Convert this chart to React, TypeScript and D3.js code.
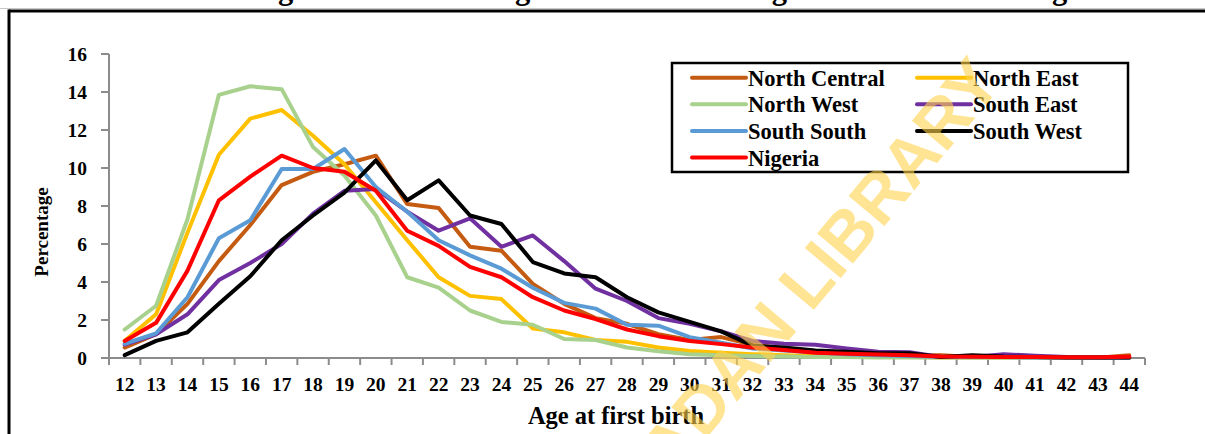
import React from "react";
import * as d3 from "d3";

const ages = d3.range(12, 45);
const ageLabels = ages.map(String);
const yTicks = [0, 2, 4, 6, 8, 10, 12, 14, 16];

const northCentral = [0.55,1.25,2.85,5.1,7.0,9.1,9.8,10.2,10.65,8.1,7.9,5.85,5.65,3.9,2.85,2.1,1.8,1.25,0.95,1.1,0.7,0.5,0.3,0.25,0.2,0.15,0.15,0.05,0.05,0.05,0.02,0.02,0.15];
const northEast = [0.9,2.3,6.6,10.7,12.6,13.05,11.7,10.2,8.2,6.2,4.25,3.27,3.1,1.55,1.35,0.95,0.85,0.55,0.37,0.28,0.2,0.15,0.1,0.08,0.05,0.05,0.03,0.02,0.02,0.02,0.01,0.01,0.01];
const northWest = [1.5,2.75,7.3,13.85,14.3,14.15,11.1,9.6,7.5,4.25,3.7,2.5,1.9,1.75,1.0,0.95,0.55,0.35,0.2,0.15,0.1,0.08,0.05,0.05,0.03,0.03,0.02,0.01,0.01,0.01,0.01,0.01,0.01];
const southEast = [0.7,1.25,2.3,4.1,5.0,6.0,7.6,8.8,8.9,7.7,6.7,7.35,5.85,6.45,5.1,3.65,3.0,2.1,1.8,1.4,0.9,0.75,0.7,0.5,0.33,0.3,0.05,0.05,0.2,0.12,0.05,0.03,0.03];
const southSouth = [0.75,1.3,3.2,6.3,7.25,9.95,9.95,11.0,9.0,7.7,6.2,5.4,4.7,3.7,2.9,2.6,1.75,1.7,1.1,0.8,0.5,0.4,0.3,0.2,0.15,0.1,0.05,0.05,0.05,0.03,0.02,0.02,0.02];
const southWest = [0.15,0.9,1.35,2.85,4.3,6.2,7.5,8.7,10.4,8.3,9.35,7.5,7.05,5.05,4.45,4.25,3.2,2.4,1.9,1.4,0.65,0.55,0.4,0.33,0.25,0.25,0.05,0.15,0.08,0.05,0.02,0.02,0.02];
const nigeria = [0.9,1.85,4.6,8.3,9.55,10.65,10.0,9.8,8.8,6.7,5.9,4.8,4.25,3.2,2.5,2.05,1.5,1.15,0.9,0.73,0.55,0.42,0.28,0.22,0.18,0.15,0.08,0.06,0.05,0.05,0.04,0.04,0.06];

const seriesNames = ["North Central", "North East", "North West", "South East", "South South", "South West", "Nigeria"];
const seriesValues = [northCentral, northEast, northWest, southEast, southSouth, southWest, nigeria];
const seriesColors = ["#C55A11", "#FFC000", "#A9D18E", "#7030A0", "#5B9BD5", "#000000", "#FF0000"];

const W = 1205;
const H = 434;
const SERIF = "'Liberation Serif', 'Times New Roman', serif";

export default function App() {
  const x = d3.scaleBand<string>().domain(ageLabels).range([109, 1145]).padding(0);
  const y = d3.scaleLinear().domain([0, 16]).range([358, 54]);
  const cx = (i: number) => (x(ageLabels[i]) as number) + x.bandwidth() / 2;
  const line = d3
    .line<number>()
    .x((_, i) => cx(i))
    .y((d) => y(d));

  const axisColor = "#8c8c8c";
  const bandEdges = ageLabels.map((a) => x(a) as number).concat([x.range()[1]]);

  const legX = 672, legY = 63, legW = 456, legH = 109;
  const rowY = (r: number) => 77.7 + r * 26.6;
  const colX = [692, 917];

  return (
    <svg width={W} height={H} style={{ position: "absolute", left: 0, top: 0, background: "#fff" }}>
      <rect x={0} y={0} width={W} height={H} fill="#fff" />
      {/* title, cut off by the top edge as in the source */}
      <text x={251} y={-1} fontFamily={SERIF} fontWeight="bold" fontSize={30.5} fill="#000">
        Figure 4.3: Percentage Distribution of Age at First Birth in Nigeria
      </text>
      {/* frame */}
      <line x1={0} x2={W} y1={8.5} y2={8.5} stroke="#c8c8c8" strokeWidth={1} />
      <line x1={9} x2={W} y1={11} y2={11} stroke="#000" strokeWidth={3} />
      <line x1={9} x2={9} y1={9.5} y2={H} stroke="#000" strokeWidth={3} />

      {/* y axis */}
      <line x1={109} x2={109} y1={y(16)} y2={y(0)} stroke={axisColor} strokeWidth={2} />
      {yTicks.map((t) => (
        <g key={t}>
          <line x1={101} x2={109} y1={y(t)} y2={y(t)} stroke={axisColor} strokeWidth={2} />
          <text x={87} y={y(t)} dy="0.35em" textAnchor="end" fontFamily={SERIF} fontWeight="bold" fontSize={19.5} fill="#000">
            {t}
          </text>
        </g>
      ))}
      {/* x axis */}
      <line x1={101} x2={x.range()[1]} y1={y(0)} y2={y(0)} stroke={axisColor} strokeWidth={2} />
      {bandEdges.map((e, i) => (
        <line key={i} x1={e} x2={e} y1={y(0)} y2={y(0) + 7} stroke={axisColor} strokeWidth={2} />
      ))}
      {ageLabels.map((a, i) => (
        <text key={a} x={cx(i)} y={391} textAnchor="middle" fontFamily={SERIF} fontWeight="bold" fontSize={19.5} fill="#000">
          {a}
        </text>
      ))}

      {/* axis titles */}
      <text x={616} y={424} textAnchor="middle" fontFamily={SERIF} fontWeight="bold" fontSize={24.5} fill="#000">
        Age at first birth
      </text>
      <text
        transform={`translate(48, 232) rotate(-90)`}
        textAnchor="middle"
        fontFamily={SERIF}
        fontWeight="bold"
        fontSize={19}
        fill="#000"
      >
        Percentage
      </text>

      {/* series */}
      {seriesValues.map((vals, k) => (
        <path
          key={seriesNames[k]}
          d={line(vals) || ""}
          fill="none"
          stroke={seriesColors[k]}
          strokeWidth={4}
          strokeLinejoin="round"
          strokeLinecap="round"
        />
      ))}

      {/* legend */}
      <rect x={legX} y={legY} width={legW} height={legH} fill="#fff" stroke="#000" strokeWidth={2.5} />
      {seriesNames.map((n, k) => {
        const r = Math.floor(k / 2);
        const c = k % 2;
        const lx = colX[c];
        const ly = rowY(r);
        return (
          <g key={n}>
            <line x1={lx} x2={lx + 54} y1={ly} y2={ly} stroke={seriesColors[k]} strokeWidth={4} strokeLinecap="round" />
            <text x={lx + 56} y={ly + 8} fontFamily={SERIF} fontWeight="bold" fontSize={22.5} fill="#000">
              {n}
            </text>
          </g>
        );
      })}

      {/* watermark */}
      <text
        transform="translate(985, 68) rotate(-50)"
        textAnchor="end"
        dy="0.36em"
        fontFamily="'Liberation Sans', Arial, sans-serif"
        fontWeight="bold"
        fontSize={68}
        fill="#FFD24D"
        fillOpacity={0.6}
      >
        UNIVERSITY OF IBADAN LIBRARY
      </text>
    </svg>
  );
}
